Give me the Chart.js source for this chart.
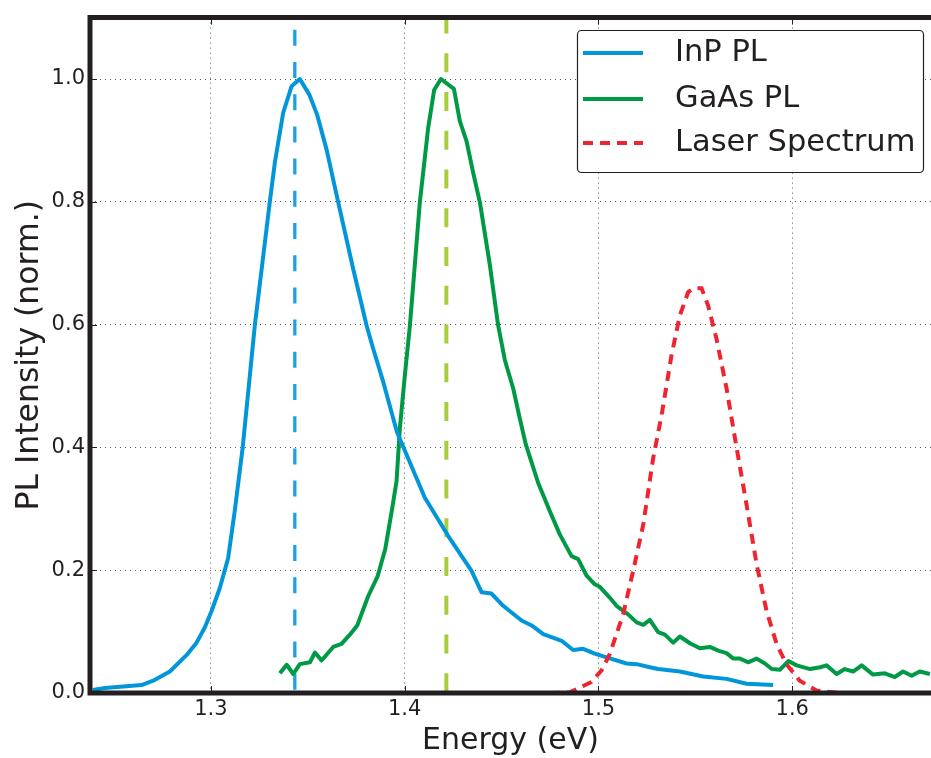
<!DOCTYPE html>
<html>
<head>
<meta charset="utf-8">
<script src="https://cdn.jsdelivr.net/npm/chart.js@4/dist/chart.umd.min.js"></script>
<style>
  html, body { margin: 0; padding: 0; background: #ffffff; overflow: hidden; }
  #wrap { width: 931px; height: 758px; position: relative; }
  canvas { display: block; }
</style>
</head>
<body>
<div id="wrap"><canvas id="c" width="931" height="758"></canvas></div>
<script>
// ---------------- data ----------------
const inpEnergy = [1.2390,1.2453,1.2547,1.2642,1.2702,1.2788,1.2875,1.2926,1.2969,1.3004,1.3046,1.3089,1.3124,1.3164,1.3227,1.3304,1.3330,1.3373,1.3416,1.3459,1.3507,1.3548,1.3597,1.3657,1.3734,1.3803,1.3837,1.3889,1.3960,1.4104,1.4224,1.4345,1.4397,1.4448,1.4508,1.4603,1.4655,1.4715,1.4810,1.4869,1.4921,1.4981,1.5042,1.5145,1.5197,1.5265,1.5308,1.5420,1.5540,1.5661,1.5764,1.5901];
const inpIntensity = [0.005,0.008,0.0105,0.013,0.020,0.035,0.062,0.082,0.107,0.134,0.171,0.220,0.299,0.400,0.600,0.800,0.864,0.945,0.988,1.000,0.975,0.942,0.885,0.799,0.691,0.599,0.561,0.507,0.425,0.318,0.256,0.199,0.164,0.162,0.142,0.118,0.110,0.096,0.085,0.070,0.072,0.064,0.058,0.048,0.047,0.042,0.039,0.035,0.027,0.023,0.015,0.013];

const gaasEnergy = [1.3356,1.3391,1.3425,1.3459,1.3511,1.3537,1.3571,1.3631,1.3674,1.3717,1.3755,1.3812,1.3860,1.3900,1.3935,1.3958,1.3975,1.4001,1.4027,1.4053,1.4078,1.4121,1.4152,1.4187,1.4254,1.4285,1.4319,1.4353,1.4388,1.4440,1.4482,1.4517,1.4560,1.4594,1.4625,1.4689,1.4749,1.4801,1.4861,1.4895,1.4939,1.4981,1.5007,1.5059,1.5093,1.5153,1.5197,1.5231,1.5265,1.5308,1.5343,1.5385,1.5420,1.5472,1.5523,1.5575,1.5618,1.5661,1.5696,1.5730,1.5772,1.5816,1.5859,1.5894,1.5937,1.5980,1.6023,1.6092,1.6144,1.6177,1.6229,1.6271,1.6314,1.6358,1.6417,1.6478,1.6529,1.6572,1.6616,1.6658,1.6710];
const gaasIntensity = [0.032,0.046,0.031,0.047,0.050,0.066,0.053,0.075,0.080,0.095,0.110,0.158,0.190,0.235,0.300,0.345,0.431,0.518,0.599,0.700,0.799,0.920,0.982,1.000,0.984,0.931,0.899,0.848,0.799,0.696,0.599,0.542,0.496,0.447,0.405,0.342,0.296,0.258,0.223,0.218,0.191,0.177,0.173,0.155,0.142,0.128,0.115,0.111,0.119,0.099,0.095,0.082,0.092,0.081,0.073,0.075,0.069,0.065,0.056,0.056,0.050,0.056,0.048,0.039,0.038,0.052,0.045,0.039,0.042,0.045,0.031,0.039,0.035,0.045,0.030,0.032,0.026,0.035,0.028,0.035,0.031];

const laserEnergy = [1.4750,1.4852,1.4964,1.5016,1.5059,1.5127,1.5179,1.5231,1.5282,1.5326,1.5377,1.5420,1.5463,1.5489,1.5532,1.5566,1.5609,1.5661,1.5713,1.5764,1.5816,1.5867,1.5919,1.5970,1.6039,1.6125,1.6246];
const laserIntensity = [0.000,0.001,0.018,0.037,0.064,0.128,0.199,0.274,0.382,0.453,0.550,0.615,0.653,0.659,0.659,0.631,0.577,0.496,0.399,0.307,0.210,0.134,0.080,0.047,0.020,0.004,0.000];

const inpPeakEnergy = 1.3433;   // blue dashed marker
const gaasPeakEnergy = 1.4215;  // yellow-green dashed marker

const seriesLabels = ["InP PL", "GaAs PL", "Laser Spectrum"];
const xTickValues = [1.3, 1.4, 1.5, 1.6];
const yTickValues = [0.0, 0.2, 0.4, 0.6, 0.8, 1.0];
const xRange = [1.2376, 1.6716];
const yRange = [0, 1.1];
const xTitle = "Energy (eV)";
const yTitle = "PL Intensity (norm.)";

// ---------------- styling ----------------
const FONT = "'DejaVu Sans', 'Liberation Sans', sans-serif";
const INK = "#231f20";
const BLUE = "#0096d9";
const BLUE_DASH = "#1aa3e0";
const GREEN = "#009a46";
const LIME = "#a8cd3c";
const RED = "#ee2430";

function pts(xs, ys) { return xs.map((x, i) => ({ x: x, y: ys[i] })); }

const frameAndLegend = {
  id: 'frameAndLegend',
  afterDatasetsDraw(chart) {
    const { ctx, chartArea: a } = chart;
    const W = chart.width;
    ctx.save();
    ctx.strokeStyle = INK; ctx.lineWidth = 1; ctx.setLineDash([]);
    const xs = chart.scales.x, ys = chart.scales.y;
    xs.ticks.forEach(t => {
      const px = Math.round(xs.getPixelForValue(t.value)) + 0.5;
      ctx.beginPath(); ctx.moveTo(px, a.bottom); ctx.lineTo(px, a.bottom - 7); ctx.stroke();
      ctx.beginPath(); ctx.moveTo(px, a.top); ctx.lineTo(px, a.top + 7); ctx.stroke();
    });
    ys.ticks.forEach(t => {
      const py = Math.round(ys.getPixelForValue(t.value)) + 0.5;
      ctx.beginPath(); ctx.moveTo(a.left, py); ctx.lineTo(a.left + 7, py); ctx.stroke();
    });
    ctx.strokeStyle = INK; ctx.lineWidth = 5; ctx.lineCap = 'square';
    ctx.beginPath();
    ctx.moveTo(W + 5, a.top); ctx.lineTo(a.left, a.top); ctx.lineTo(a.left, a.bottom); ctx.lineTo(W + 5, a.bottom);
    ctx.stroke();
    ctx.restore();
  },
  afterDraw(chart) {
    const { ctx } = chart;
    const box = { x: 577.5, y: 30.5, w: 346, h: 142, r: 4 };
    ctx.save();
    ctx.beginPath();
    ctx.roundRect(box.x, box.y, box.w, box.h, box.r);
    ctx.fillStyle = '#ffffff'; ctx.fill();
    ctx.lineWidth = 1.2; ctx.strokeStyle = INK; ctx.setLineDash([]); ctx.stroke();
    const rows = [53, 99, 143];
    const entries = chart.data.datasets.filter(d => d.inLegend).sort((p, q) => p.legendIndex - q.legendIndex);
    entries.forEach((d, i) => {
      const y = rows[i];
      ctx.beginPath();
      ctx.strokeStyle = d.borderColor; ctx.lineWidth = d.borderWidth;
      ctx.setLineDash(d.borderDash || []);
      ctx.lineDashOffset = 0;
      ctx.moveTo(583, y); ctx.lineTo(643, y); ctx.stroke();
      ctx.setLineDash([]);
      ctx.fillStyle = INK;
      ctx.font = "30.5px " + FONT;
      ctx.textBaseline = 'middle'; ctx.textAlign = 'left';
      ctx.fillText(d.label, 675, y);
    });
    ctx.restore();
  }
};

const ctx = document.getElementById('c').getContext('2d');
new Chart(ctx, {
  type: 'line',
  data: {
    datasets: [
      { label: seriesLabels[2], data: pts(laserEnergy, laserIntensity), borderColor: RED, borderWidth: 4,
        borderDash: [10, 7], pointRadius: 0, tension: 0, order: 0, inLegend: true, legendIndex: 2 },
      { label: seriesLabels[0], data: pts(inpEnergy, inpIntensity), borderColor: BLUE, borderWidth: 4,
        pointRadius: 0, tension: 0, order: 1, inLegend: true, legendIndex: 0, borderJoinStyle: 'round' },
      { label: seriesLabels[1], data: pts(gaasEnergy, gaasIntensity), borderColor: GREEN, borderWidth: 4,
        pointRadius: 0, tension: 0, order: 2, inLegend: true, legendIndex: 1, borderJoinStyle: 'round' },
      { label: 'InP peak', data: [{ x: inpPeakEnergy, y: yRange[1] }, { x: inpPeakEnergy, y: 0 }], borderColor: BLUE_DASH,
        borderWidth: 3.3, borderDash: [16, 16.2], borderDashOffset: 20, pointRadius: 0, order: 3, borderCapStyle: 'butt' },
      { label: 'GaAs peak', data: [{ x: gaasPeakEnergy, y: yRange[1] }, { x: gaasPeakEnergy, y: 0 }], borderColor: LIME,
        borderWidth: 4, borderDash: [19, 19.75], borderDashOffset: 3, pointRadius: 0, order: 4, borderCapStyle: 'butt' }
    ]
  },
  options: {
    responsive: false,
    animation: false,
    devicePixelRatio: 1,
    layout: { padding: { top: 14, right: 0, bottom: 0, left: 0 } },
    plugins: { legend: { display: false }, tooltip: { enabled: false } },
    scales: {
      x: {
        type: 'linear', min: xRange[0], max: xRange[1],
        afterBuildTicks(scale) { scale.ticks = xTickValues.map(v => ({ value: v })); },
        afterFit(scale) { scale.height = 65; },
        ticks: { callback: v => Number(v).toFixed(1), color: INK, font: { family: FONT, size: 21 }, padding: 4, maxRotation: 0, autoSkip: false },
        grid: { display: true, color: 'rgba(35,31,32,0.75)', lineWidth: 1, drawTicks: false },
        border: { display: false, dash: [1, 4] },
        title: { display: true, text: xTitle, color: INK, font: { family: FONT, size: 30, lineHeight: 1 }, padding: { top: 0, bottom: 1.5 } }
      },
      y: {
        type: 'linear', min: yRange[0], max: yRange[1],
        afterBuildTicks(scale) { scale.ticks = yTickValues.map(v => ({ value: v })); },
        afterFit(scale) { scale.width = 90; },
        ticks: { callback: v => Number(v).toFixed(1), color: INK, font: { family: FONT, size: 21 }, padding: 5, autoSkip: false },
        grid: { display: true, color: 'rgba(35,31,32,0.75)', lineWidth: 1, drawTicks: false },
        border: { display: false, dash: [1, 4] },
        title: { display: true, text: yTitle, color: INK, font: { family: FONT, size: 31.5, lineHeight: 1.2 }, padding: { top: 10.5, bottom: 0 } }
      }
    }
  },
  plugins: [frameAndLegend]
});
</script>
</body>
</html>
